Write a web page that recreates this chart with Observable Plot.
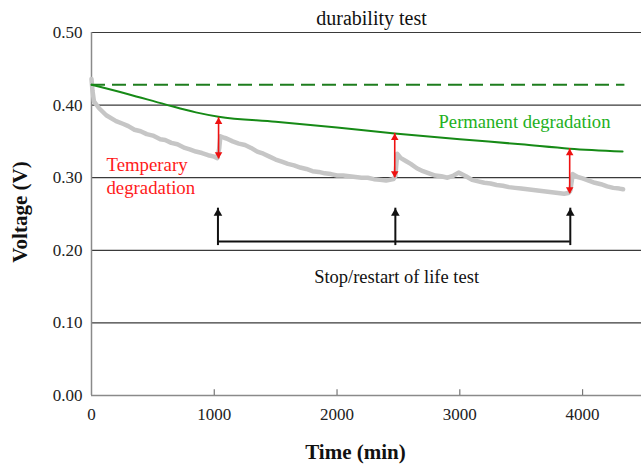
<!DOCTYPE html>
<html><head><meta charset="utf-8">
<script src="https://cdn.jsdelivr.net/npm/d3@7"></script>
<script src="https://cdn.jsdelivr.net/npm/@observablehq/plot@0.6"></script>
<style>body{margin:0;background:#fff} svg text{font-family:"Liberation Serif","Times New Roman",serif}</style>
</head><body><div id="chart"></div>
<script>
const xTicks = [0, 1000, 2000, 3000, 4000];
const yTicks = [0, 0.1, 0.2, 0.3, 0.4, 0.5];

// measured voltage (gray)
const grayT = [0, 8, 20, 60, 120, 200, 260, 300, 350, 400, 450, 500, 560, 600, 650, 700, 760, 800, 850, 900, 950, 1000, 1025,
  1040, 1050, 1080, 1100, 1150, 1200, 1250, 1300, 1350, 1400, 1450, 1500, 1550, 1600, 1650, 1700, 1750, 1800, 1850, 1900, 1950, 2000,
  2050, 2100, 2150, 2200, 2250, 2300, 2350, 2400, 2460, 2475,
  2490, 2520, 2560, 2600, 2650, 2700, 2750, 2800, 2850, 2900, 2950, 2990, 3050, 3100, 3150, 3200, 3250, 3300, 3350, 3400, 3450,
  3500, 3550, 3600, 3650, 3700, 3750, 3800, 3850, 3885, 3900,
  3920, 3960, 4000, 4050, 4100, 4150, 4200, 4250, 4300, 4330];
const grayV = [0.436, 0.420, 0.405, 0.396, 0.386, 0.378, 0.374, 0.371, 0.366, 0.364, 0.360, 0.358, 0.353, 0.352, 0.348, 0.346, 0.341, 0.339, 0.336, 0.334, 0.331, 0.329, 0.327,
  0.340, 0.357, 0.355, 0.354, 0.350, 0.347, 0.345, 0.341, 0.336, 0.333, 0.329, 0.325, 0.322, 0.319, 0.317, 0.314, 0.312, 0.309, 0.308, 0.306, 0.305, 0.303,
  0.303, 0.302, 0.301, 0.300, 0.300, 0.298, 0.297, 0.296, 0.298, 0.302,
  0.333, 0.327, 0.323, 0.319, 0.313, 0.309, 0.306, 0.303, 0.302, 0.300, 0.303, 0.307, 0.302, 0.297, 0.295, 0.293, 0.292, 0.290, 0.289, 0.287, 0.286,
  0.285, 0.284, 0.283, 0.282, 0.281, 0.280, 0.279, 0.278, 0.279, 0.282,
  0.305, 0.301, 0.299, 0.296, 0.293, 0.291, 0.288, 0.286, 0.285, 0.284];

// permanent degradation (green)
const greenT = [0, 300, 600, 850, 1035, 1500, 2000, 2470, 3000, 3500, 3895, 4326];
const greenV = [0.428, 0.415, 0.401, 0.390, 0.384, 0.377, 0.369, 0.361, 0.353, 0.346, 0.340, 0.336];
const initialV = 0.428;
const initialEnd = 4345;

// temporary degradation arrows (red)
const redT = [1035, 2470, 3895];
const redTop = [0.383, 0.361, 0.340];
const redBottom = [0.326, 0.300, 0.278];

// stop/restart arrows (black)
const stopT = [1030, 2475, 3900];
const stopBase = 0.212;
const stopTip = 0.258;

const gray = grayT.map((t, i) => ({t, v: grayV[i]}));
const green = greenT.map((t, i) => ({t, v: greenV[i]}));
const red = redT.map((t, i) => ({t, top: redTop[i], bottom: redBottom[i]}));
const stops = stopT.map(t => ({t}));

const serif = "'Liberation Serif', 'Times New Roman', serif";
const rHead = 2.8, bHead = 3.2;
const tipOff = r => 2 * Math.sqrt(Math.PI * r * r / (3 * Math.sqrt(3)));

const chart = Plot.plot({
  width: 642, height: 464,
  marginLeft: 91, marginRight: 1, marginTop: 32, marginBottom: 69,
  x: {domain: [0, 4480], label: null},
  y: {domain: [0, 0.5], label: null},
  style: {fontFamily: serif, fontSize: "17px", color: "#222", background: "white"},
  marks: [
    Plot.ruleY(yTicks.filter(d => d > 0), {stroke: "#3a3a3a", strokeWidth: 1.2}),
    Plot.ruleX([0], {stroke: "#8a8a8a", strokeWidth: 1.5}),
    Plot.ruleY([0], {stroke: "#8a8a8a", strokeWidth: 1.5}),
    Plot.ruleX(xTicks.filter(d => d > 0), {y1: 0, y2: 0.008, stroke: "#777", strokeWidth: 1.2}),
    Plot.axisY(yTicks, {tickSize: 0, tickPadding: 9, tickFormat: d3.format(".2f"), fontSize: 17, label: null}),
    Plot.axisX(xTicks, {tickSize: 0, tickPadding: 12, tickFormat: d => String(d), fontSize: 17, label: null}),
    Plot.line(gray, {x: "t", y: "v", stroke: "#c6c6c6", strokeWidth: 4.5, strokeLinejoin: "round", strokeLinecap: "round"}),
    Plot.ruleY([initialV], {x1: 0, x2: initialEnd, stroke: "#1e7d1e", strokeWidth: 2, strokeDasharray: "14,7"}),
    Plot.line(green, {x: "t", y: "v", stroke: "#168a16", strokeWidth: 2, curve: "monotone-x"}),
    // red double arrows
    Plot.ruleX(red, {x: "t", y1: "top", y2: "bottom", stroke: "#ee1111", strokeWidth: 1.6}),
    Plot.dot(red, {x: "t", y: "top", symbol: "triangle", r: rHead, fill: "#ee1111", stroke: null, dy: tipOff(rHead)}),
    Plot.dot(red, {x: "t", y: "bottom", symbol: "triangle", r: rHead, fill: "#ee1111", stroke: null, rotate: 180, dy: -tipOff(rHead)}),
    // black stop/restart arrows
    Plot.ruleY([stopBase], {x1: stopT[0], x2: stopT[stopT.length - 1], stroke: "#111", strokeWidth: 2}),
    Plot.ruleX(stops, {x: "t", y1: stopBase, y2: stopTip, stroke: "#111", strokeWidth: 2, insetTop: 4}),
    Plot.dot(stops, {x: "t", y: () => stopTip, symbol: "triangle", r: bHead, fill: "#111", stroke: null, dy: tipOff(bHead)}),
    // texts
    Plot.text(["durability test"], {frameAnchor: "top", dx: 5, dy: -14, lineAnchor: "middle", fontSize: 20, fill: "#111", fontFamily: serif}),
    Plot.text(["Permanent degradation"], {x: () => 3527, y: () => 0.376, fill: "#22b022", fontSize: 18.6, lineAnchor: "middle", fontFamily: serif}),
    Plot.text(["Temperary\ndegradation"], {x: () => 122, y: () => 0.3037, fill: "#ff1a1a", fontSize: 18.8, textAnchor: "start", lineAnchor: "middle", lineHeight: 1.25, fontFamily: serif}),
    Plot.text(["Stop/restart of life test"], {x: () => 2485, y: () => 0.1625, fill: "#111", fontSize: 18.5, lineAnchor: "middle", fontFamily: serif}),
    Plot.text(["Voltage (V)"], {frameAnchor: "left", dx: -71, dy: -2, rotate: -90, textAnchor: "middle", fontWeight: "bold", fontSize: 21, fill: "#111", lineAnchor: "middle", fontFamily: serif}),
    Plot.text(["Time (min)"], {frameAnchor: "bottom", textAnchor: "middle", dx: -11, dy: 57, fontWeight: "bold", fontSize: 21, fill: "#111", lineAnchor: "middle", fontFamily: serif})
  ]
});
document.getElementById("chart").append(chart);
</script>
</body></html>
